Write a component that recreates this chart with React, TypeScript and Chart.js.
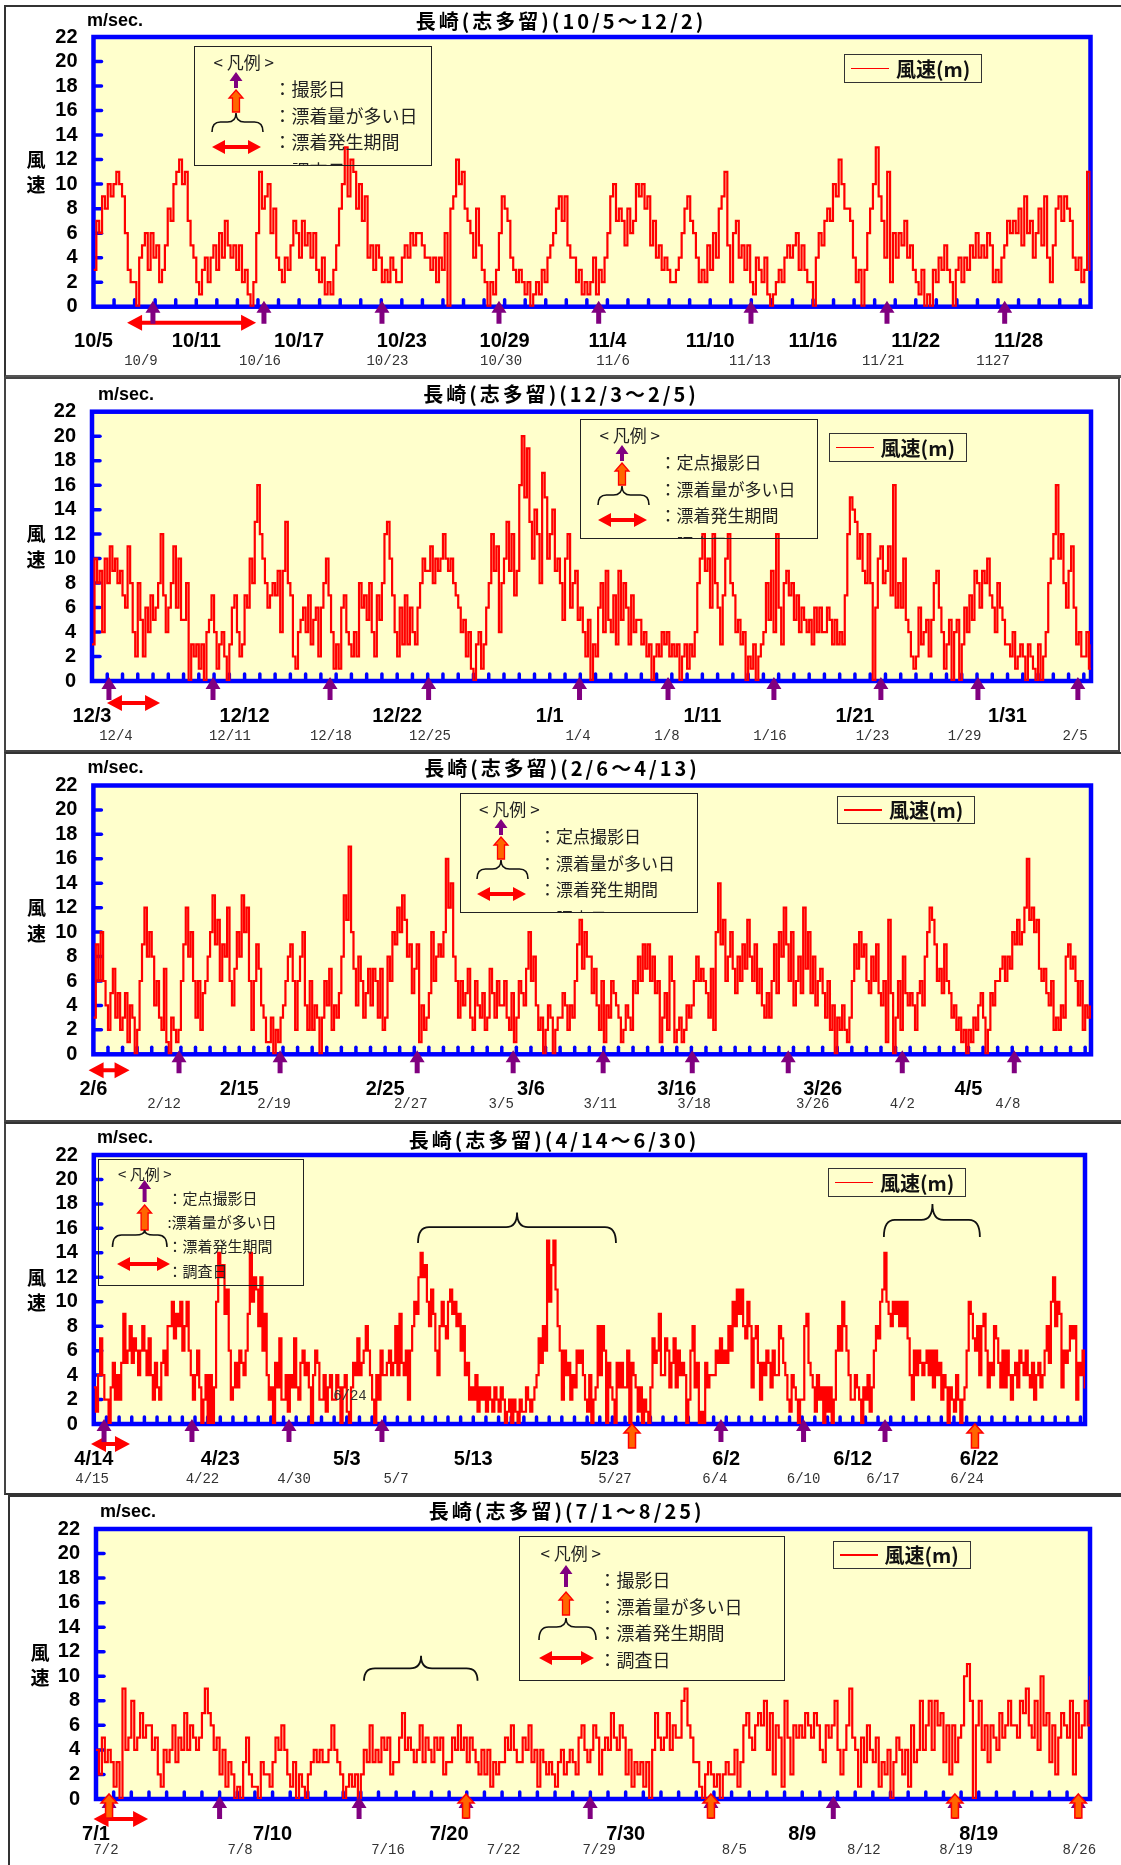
import React, { useEffect, useRef } from 'react';
import { Chart, registerables } from 'chart.js';

Chart.register(...registerables);

const W = 1121;
const PTS_PER_DAY = 6;
const Y_MAX = 22;
const JP = '"Noto Sans CJK JP", "Noto Sans", sans-serif';
const LAT = '"Liberation Sans", Arial, sans-serif';
const MONO = '"Liberation Mono", "DejaVu Sans Mono", monospace';
const PURPLE = '#800080';
const ORANGE = '#FF6600';
const RED = '#FF0000';
const BLUE = '#0000FF';
const PLOT_BG = '#FFFFCC';

// ---------------- Panel 1 : 10/5 ~ 12/2 (6 readings per day) ----------------
const p1Speed = [
  3,7,6,9,8,10, 9,10,11,10,9,6, 3,2,2,0,4,5, 6,3,6,4,5,2, 3,5,8,7,10,11,
  12,10,11,7,5,4, 2,1,3,4,2,4, 5,3,6,4,7,5, 4,5,3,5,2,3, 1,0,2,6,11,8,
  9,10,6,8,4,3, 2,4,3,5,7,6, 4,7,5,6,4,6, 3,2,4,1,2,1, 3,5,8,10,13,9,
  12,11,8,10,7,9, 4,5,3,5,4,2, 3,2,4,3,2,2, 4,5,4,6,5,6, 6,5,4,4,3,4,
  2,4,3,6,0,8, 9,12,10,11,8,7, 6,4,8,5,3,2, 0,2,1,3,6,9, 8,7,4,3,2,3,
  2,1,2,0,1,2, 1,3,2,4,5,6, 8,9,7,9,5,4, 4,2,3,1,2,1, 2,4,1,3,2,4,
  6,9,10,7,8,7, 5,8,6,7,10,9, 10,8,9,5,7,4, 5,3,4,3,2,2, 3,4,6,8,9,7,
  6,4,2,3,2,5, 3,6,4,8,9,11, 5,2,6,7,4,5, 3,5,2,1,4,3, 2,4,1,0,1,2,
  3,2,4,5,4,5, 6,3,5,3,2,2, 0,4,6,5,7,8, 7,10,9,12,10,8, 8,7,4,2,3,0,
  3,6,8,10,13,9, 7,4,11,2,6,4, 6,5,7,4,5,3, 2,1,3,0,1,0, 3,2,4,3,5,3,
  2,0,3,4,2,4, 3,5,4,6,4,5, 4,6,5,2,3,2, 4,5,7,6,7,6, 8,5,9,6,7,4,
  6,8,5,9,4,2, 5,8,9,7,9,8, 7,4,3,4,2,3, 11,3,0,
];
const p1TickDays = [0, 6, 12, 18, 24, 30, 36, 42, 48, 54];
const p1TickLabels = ['10/5', '10/11', '10/17', '10/23', '10/29', '11/4', '11/10', '11/16', '11/22', '11/28'];
const p1PhotoDays = [3.47, 9.95, 16.84, 23.67, 29.49, 38.38, 46.32, 53.19];
const p1HeavyDays: number[] = [];
const p1Spans = [[1.96, 9.49]];
const p1NoteDays = [2.77, 9.72, 17.16, 23.79, 30.33, 38.32, 46.09, 52.51];
const p1NoteLabels = ['10/9', '10/16', '10/23', '10/30', '11/6', '11/13', '11/21', '1127'];

// ---------------- Panel 2 : 12/3 ~ 2/5 ----------------
const p2Speed = [
  3,10,8,9,4,10, 8,11,9,10,8,9, 7,6,11,8,4,2, 8,5,2,6,4,7, 5,6,8,12,7,4,
  6,8,11,6,10,5, 5,8,0,3,2,3, 1,3,0,4,5,7, 4,1,3,4,2,0, 3,6,7,4,2,3,
  7,6,10,8,13,16, 12,10,8,6,7,8, 7,9,4,9,13,8, 7,2,1,4,5,6, 4,7,3,5,6,2,
  6,8,10,7,4,1, 3,1,6,7,4,3, 2,4,2,8,6,7, 5,8,4,2,7,5, 8,12,13,10,7,4,
  2,6,3,7,3,6, 4,3,6,8,10,9, 9,11,8,10,9,10, 12,10,9,10,8,7, 6,4,5,2,4,1,
  0,3,4,1,3,6, 8,12,9,11,4,8, 10,13,9,12,7,9, 16,20,15,19,13,10, 14,12,8,17,15,10,
  12,14,9,10,8,5, 10,12,6,8,9,5, 6,4,2,5,0,3, 2,6,8,4,9,5, 4,7,3,9,5,8,
  6,3,7,4,5,5, 3,4,2,3,0,2, 3,2,4,3,4,2, 3,2,3,0,2,3, 1,3,2,4,8,10,
  12,9,10,6,12,8, 6,3,7,10,12,8, 7,4,5,3,4,0, 2,1,3,0,2,3, 4,8,5,9,4,12,
  6,3,8,9,7,8, 5,7,4,6,5,4, 5,3,6,4,6,4, 4,6,5,3,5,3, 4,3,7,12,15,14,
  13,10,12,9,8,12, 8,0,6,10,11,8, 9,11,7,16,6,8, 6,10,5,4,2,1, 2,6,3,4,5,2,
  5,8,9,6,4,1, 3,5,0,4,5,0, 3,6,4,7,5,9, 8,6,9,8,10,7, 6,4,8,6,5,3,
  3,2,4,1,2,3, 2,0,3,2,1,0, 3,0,2,4,8,10, 12,16,10,12,8,6, 9,11,6,3,4,2, 2,4,1,3,
];
const p2TickDays = [0, 10, 20, 30, 40, 50, 60];
const p2TickLabels = ['12/3', '12/12', '12/22', '1/1', '1/11', '1/21', '1/31'];
const p2PhotoDays = [1.11, 7.93, 15.6, 22.06, 31.95, 37.75, 44.69, 51.7, 58.06, 64.61];
const p2HeavyDays: number[] = [];
const p2Spans = [[0.98, 4.46]];
const p2NoteDays = [1.57, 9.04, 15.66, 22.15, 31.85, 37.68, 44.43, 51.15, 57.18, 64.42];
const p2NoteLabels = ['12/4', '12/11', '12/18', '12/25', '1/4', '1/8', '1/16', '1/23', '1/29', '2/5'];

// ---------------- Panel 3 : 2/6 ~ 4/13 ----------------
const p3Speed = [
  3,9,6,10,6,4, 2,5,7,3,5,2, 3,5,1,4,3,0, 2,6,9,12,8,10, 8,4,6,3,2,7,
  1,0,3,2,1,2, 6,9,12,8,10,6, 3,6,2,5,6,8, 10,13,9,11,6,9, 8,12,6,4,7,10,
  8,13,10,12,6,2, 6,9,7,4,3,1, 1,3,0,2,1,3, 4,6,8,9,6,2, 6,8,10,4,2,6,
  2,4,3,0,3,6, 4,7,2,4,3,5, 8,13,11,17,10,7, 4,8,6,3,5,7, 4,7,6,3,7,2,
  3,8,6,10,9,12, 10,13,11,8,9,5, 7,9,1,4,2,3, 5,10,6,8,9,8, 10,16,12,14,8,6,
  3,6,4,5,7,3, 2,6,4,3,5,2, 3,7,5,3,6,4, 4,6,3,2,5,1, 3,6,5,4,7,10,
  6,8,4,2,3,0, 2,4,3,0,2,3, 3,5,4,2,4,3, 6,9,11,7,10,8, 8,5,7,4,2,6,
  1,4,3,6,5,4, 3,1,2,4,3,2, 6,5,8,6,9,7, 9,6,8,5,6,1, 3,5,2,8,6,1,
  2,3,1,2,4,3, 4,6,8,6,7,6, 5,3,7,2,10,14, 9,11,6,8,10,7, 5,8,6,9,7,11,
  8,6,9,5,7,4, 3,5,3,6,9,5, 10,8,12,9,6,10, 4,6,8,5,12,7, 10,5,8,4,6,7,
  5,3,6,2,4,0, 3,2,4,2,1,3, 6,9,7,10,8,9, 6,5,8,6,9,5, 4,6,1,11,5,0,
  3,6,2,8,5,4, 5,4,2,5,6,4, 8,10,12,11,9,6, 7,5,9,6,5,3, 4,2,3,1,2,0,
  2,1,3,2,4,5, 3,0,2,5,4,6, 6,7,8,6,8,7, 10,9,11,9,10,12, 16,11,12,10,11,7,
  6,7,5,4,6,2, 3,2,4,3,8,9, 7,8,6,4,6,2, 4,3,4,
];
const p3TickDays = [0, 10, 20, 30, 40, 50, 60];
const p3TickLabels = ['2/6', '2/15', '2/25', '3/6', '3/16', '3/26', '4/5'];
const p3PhotoDays = [5.87, 12.8, 22.2, 28.78, 34.95, 41.06, 47.64, 55.46, 63.14];
const p3HeavyDays: number[] = [];
const p3Spans = [[-0.33, 2.48]];
const p3NoteDays = [4.84, 12.39, 21.76, 27.96, 34.75, 41.19, 49.32, 55.46, 62.7];
const p3NoteLabels = ['2/12', '2/19', '2/27', '3/5', '3/11', '3/18', '3/26', '4/2', '4/8'];

// ---------------- Panel 4 : 4/14 ~ 6/30 ----------------
const p4Speed = [
  3,1,4,7,4,2, 2,0,3,5,2,4, 2,5,9,5,6,8, 5,7,6,4,6,8, 6,4,7,4,2,5,
  3,2,5,6,4,8, 8,10,7,9,8,10, 6,8,10,6,4,2, 4,6,3,0,2,4, 0,4,0,3,10,14,
  12,13,9,11,6,2, 3,5,3,6,5,4, 6,9,14,10,12,11, 8,12,6,9,4,2, 3,0,5,3,7,2,
  2,4,1,4,3,7, 3,2,5,6,4,5, 3,0,4,6,5,2, 2,4,1,3,4,2, 2,4,3,0,3,4,
  1,0,3,5,4,7, 4,5,6,8,6,4, 2,0,4,2,6,4, 4,5,6,4,5,8, 4,9,5,4,6,2,
  6,8,10,9,12,14, 12,13,10,8,11,9, 6,4,8,10,8,7, 10,11,9,10,8,9, 6,8,4,5,2,3,
  2,4,1,3,2,3, 1,3,2,1,3,2, 1,3,2,0,1,2, 0,2,1,0,2,1, 1,3,2,1,2,3,
  4,7,5,8,6,15, 10,13,15,11,8,6, 2,6,4,5,2,4, 3,6,5,6,4,2, 1,4,0,2,3,8,
  4,8,6,0,5,3, 2,0,5,3,5,3, 3,6,0,5,4,3, 1,3,0,2,1,0, 3,7,5,6,9,4,
  4,7,6,3,5,7, 3,6,4,5,4,0, 2,6,8,3,5,0, 1,0,5,3,4,4, 4,6,5,7,5,6,
  5,8,6,10,8,11, 9,11,8,7,10,8, 3,7,8,5,2,5, 4,6,5,3,6,4, 4,8,7,5,4,2,
  1,4,3,2,0,2, 2,8,9,5,4,3, 1,4,2,3,0,3, 1,3,0,2,6,8, 6,10,8,6,4,2,
  2,4,3,2,0,3, 2,4,1,3,6,8, 7,10,11,14,10,9, 8,10,9,10,8,10, 8,10,7,4,2,6,
  4,6,5,4,5,6, 4,6,3,6,4,5, 2,4,3,0,3,2, 1,4,2,0,2,3, 6,10,9,7,6,8,
  4,8,9,6,3,5, 4,8,7,5,3,6, 3,6,4,2,4,5, 3,6,5,4,6,4, 3,5,2,4,5,3,
  4,6,8,5,10,12, 8,10,9,3,6,5, 6,8,7,8,2,5, 4,6,3,4,
];
const p4TickDays = [0, 10, 20, 30, 40, 50, 60, 70];
const p4TickLabels = ['4/14', '4/23', '5/3', '5/13', '5/23', '6/2', '6/12', '6/22'];
const p4PhotoDays = [0.81, 7.76, 15.43, 22.78, 49.58, 56.11, 62.55];
const p4HeavyDays = [42.55, 69.66];
const p4Spans = [[-0.22, 2.86]];
const p4NoteDays = [-0.14, 8.59, 15.83, 23.89, 41.2, 49.1, 56.11, 62.39, 69.03];
const p4NoteLabels = ['4/15', '4/22', '4/30', '5/7', '5/27', '6/4', '6/10', '6/17', '6/24'];
// drift periods: [start day, end day, peak day, end level, bar level, peak level]
const p4Braces = [[25.63, 41.28, 33.46, 14.8, 16.1, 17.3], [62.46, 70.05, 66.3, 15.3, 16.7, 18.0]];
const p4Strays = [{ day: 20.25, level: 2.3, text: '6/24' }];

// ---------------- Panel 5 : 7/1 ~ 8/25 ----------------
const p5Speed = [
  4,2,5,3,4,3, 1,3,0,9,4,5, 8,4,5,7,5,6, 6,4,5,2,1,4, 3,4,6,3,5,4,
  7,4,6,5,4,5, 7,9,7,6,4,5, 2,4,1,3,2,0, 1,0,3,5,2,1, 1,0,3,2,2,1,
  3,5,4,6,4,2, 1,3,0,2,1,0, 2,3,4,3,4,3, 3,4,6,4,3,2, 0,1,2,1,2,0,
  2,4,3,6,3,4, 3,5,4,5,2,3, 3,5,7,4,5,4, 3,4,6,3,5,4, 3,5,4,5,2,3,
  3,5,4,6,4,5, 3,5,4,3,2,4, 2,4,1,3,2,3, 3,5,4,6,4,3, 3,5,4,6,3,4,
  1,4,3,2,3,2, 1,3,4,2,3,4, 3,2,5,6,4,3, 4,6,5,2,4,5, 4,7,5,4,6,5,
  2,4,1,3,2,3, 1,3,0,4,7,5, 4,5,7,4,6,5, 5,8,9,6,5,3, 3,1,0,2,3,2,
  1,2,0,2,3,2, 2,4,1,3,6,7, 5,4,6,7,6,8, 4,7,2,6,5,1, 8,5,2,6,5,6,
  5,7,6,5,7,6, 4,3,6,5,6,8, 4,2,4,6,9,5, 4,1,5,3,6,4, 3,5,1,3,2,4,
  0,3,5,4,2,4, 1,6,3,4,8,4, 6,8,4,8,6,7, 3,6,2,6,3,5, 6,10,11,8,0,6,
  8,4,6,3,6,5, 4,7,5,6,8,6, 6,5,8,7,9,6, 5,8,4,10,6,7, 3,6,2,5,7,6,
  5,8,2,7,5,6, 8,6,10,
];
const p5TickDays = [0, 10, 20, 30, 40, 50];
const p5TickLabels = ['7/1', '7/10', '7/20', '7/30', '8/9', '8/19'];
const p5PhotoDays = [0.74, 7.0, 14.9, 20.96, 27.99, 34.83, 41.76, 48.65, 55.64];
const p5HeavyDays = [0.74, 20.96, 34.83, 48.65, 55.64];
const p5Spans = [[-0.14, 2.95]];
const p5NoteDays = [0.57, 8.16, 16.54, 23.09, 28.5, 36.15, 43.49, 48.71, 55.69];
const p5NoteLabels = ['7/2', '7/8', '7/16', '7/22', '7/29', '8/5', '8/12', '8/19', '8/26'];
const p5Braces = [[15.18, 21.61, 18.41, 9.64, 10.65, 11.68]];

// ---------------- shape helpers ----------------
function upArrowPath(x: number, yTip: number, total: number, headW: number, headH: number, shaftW: number) {
  const h = headW / 2, s = shaftW / 2;
  return `M${x},${yTip} L${x + h},${yTip + headH} L${x + s},${yTip + headH} L${x + s},${yTip + total} L${x - s},${yTip + total} L${x - s},${yTip + headH} L${x - h},${yTip + headH} Z`;
}
function dblArrowPath(x1: number, x2: number, y: number, headL: number, headH: number, shaftH: number) {
  const a = headH / 2, s = shaftH / 2;
  return `M${x1},${y} L${x1 + headL},${y - a} L${x1 + headL},${y - s} L${x2 - headL},${y - s} L${x2 - headL},${y - a} L${x2},${y} L${x2 - headL},${y + a} L${x2 - headL},${y + s} L${x1 + headL},${y + s} L${x1 + headL},${y + a} Z`;
}
function bracePath(x1: number, x2: number, xm: number, yTop: number, yMid: number, yEnd: number) {
  const r = Math.min(11, (x2 - x1) / 6);
  const r2 = Math.min(11, (x2 - x1) / 6);
  return `M${x1},${yEnd} Q${x1},${yMid} ${x1 + r},${yMid} L${xm - r2},${yMid} Q${xm},${yMid} ${xm},${yTop} Q${xm},${yMid} ${xm + r2},${yMid} L${x2 - r},${yMid} Q${x2},${yMid} ${x2},${yEnd}`;
}

const PHOTO = { total: 23, headW: 15, headH: 12, shaftW: 5 };
const HEAVY = { total: 24, headW: 16, headH: 9, shaftW: 7 };

function makeDecor(def: any) {
  return {
    id: 'decor_' + def.id,
    beforeDraw(chart: any) {
      const { ctx, chartArea: a } = chart;
      ctx.save();
      ctx.fillStyle = PLOT_BG;
      ctx.fillRect(a.left, a.top, a.right - a.left, a.bottom - a.top);
      ctx.restore();
    },
    beforeDatasetsDraw(chart: any) {
      const { ctx, chartArea: a, scales } = chart;
      const xs = scales.x, ys = scales.y;
      ctx.save();
      ctx.strokeStyle = BLUE;
      ctx.lineCap = 'round';
      ctx.lineWidth = 3.5;
      for (let d = def.minorStep; d < def.days - 0.3; d += def.minorStep) {
        const x = xs.getPixelForValue(d);
        ctx.beginPath(); ctx.moveTo(x, a.bottom - 2); ctx.lineTo(x, a.bottom - 7); ctx.stroke();
      }
      for (let v = 2; v < Y_MAX; v += 2) {
        const y = ys.getPixelForValue(v);
        ctx.beginPath(); ctx.moveTo(a.left + 2, y); ctx.lineTo(a.left + 8, y); ctx.stroke();
      }
      ctx.lineCap = 'butt';
      ctx.lineWidth = 4.5;
      ctx.strokeRect(a.left, a.top, a.right - a.left, a.bottom - a.top);
      ctx.restore();
    },
    afterDatasetsDraw(chart: any) {
      const { ctx, chartArea: a, scales } = chart;
      const xs = scales.x, ys = scales.y;
      const B = a.bottom;
      ctx.save();
      for (const [s, e] of def.spans) {
        ctx.fillStyle = RED;
        ctx.fill(new Path2D(dblArrowPath(xs.getPixelForValue(s), xs.getPixelForValue(e), B + def.spanDy, 15, 16, 4)));
      }
      for (const d of def.photo) {
        ctx.fillStyle = PURPLE;
        ctx.fill(new Path2D(upArrowPath(xs.getPixelForValue(d), B + def.photoDy, PHOTO.total, PHOTO.headW, PHOTO.headH, PHOTO.shaftW)));
      }
      for (const d of def.heavy) {
        const p = new Path2D(upArrowPath(xs.getPixelForValue(d), B + def.heavyDy, HEAVY.total, HEAVY.headW, HEAVY.headH, HEAVY.shaftW));
        ctx.fillStyle = ORANGE; ctx.fill(p);
        ctx.strokeStyle = RED; ctx.lineWidth = 1.5; ctx.stroke(p);
      }
      ctx.fillStyle = '#333';
      ctx.font = `14px ${MONO}`;
      ctx.textAlign = 'center';
      ctx.textBaseline = 'middle';
      def.noteDays.forEach((d: number, i: number) => {
        ctx.fillText(def.noteLabels[i], xs.getPixelForValue(d), B + def.noteDy);
      });
      for (const st of def.strays) {
        ctx.fillText(st.text, xs.getPixelForValue(st.day), ys.getPixelForValue(st.level));
      }
      ctx.strokeStyle = '#111';
      ctx.lineWidth = 1.8;
      for (const [s, e, m, lo, mid, hi] of def.braces) {
        ctx.stroke(new Path2D(bracePath(xs.getPixelForValue(s), xs.getPixelForValue(e), xs.getPixelForValue(m),
          ys.getPixelForValue(hi), ys.getPixelForValue(mid), ys.getPixelForValue(lo))));
      }
      ctx.restore();
    },
  };
}

function buildConfig(def: any): any {
  return {
    type: 'line',
    data: {
      datasets: [{
        label: '風速(m)',
        data: def.speed.map((v: number, i: number) => ({ x: i / PTS_PER_DAY, y: v })),
        borderColor: RED,
        borderWidth: 2.2,
        pointRadius: 0,
        stepped: true,
        fill: false,
      }],
    },
    options: {
      responsive: false,
      animation: false,
      devicePixelRatio: 1,
      layout: { padding: { top: def.plot.t, right: W - def.plot.r, left: 0, bottom: 0 } },
      plugins: { legend: { display: false }, tooltip: { enabled: false }, title: { display: false } },
      scales: {
        x: {
          type: 'linear', min: 0, max: def.days,
          grid: { display: false, drawTicks: false },
          border: { display: false },
          afterFit: (s: any) => { s.height = def.height - def.plot.b; },
          afterBuildTicks: (s: any) => { s.ticks = def.tickDays.map((v: number) => ({ value: v })); },
          ticks: {
            autoSkip: false, maxRotation: 0, minRotation: 0, padding: 23, color: '#000',
            font: { family: LAT, size: 20, weight: 'bold' },
            callback: (_v: any, i: number) => def.tickLabels[i] ?? '',
          },
        },
        y: {
          min: 0, max: Y_MAX,
          grid: { display: false, drawTicks: false },
          border: { display: false },
          afterFit: (s: any) => { s.width = def.plot.l; },
          ticks: { stepSize: 2, autoSkip: false, padding: 16, color: '#000', font: { family: LAT, size: 20, weight: 'bold' } },
        },
      },
    },
    plugins: [makeDecor(def)],
  };
}

function KeyBox({ k }: { k: any }) {
  const b = k.brace;
  return (
    <div style={{ position: 'absolute', left: k.l, top: k.t, width: k.w, height: k.h, border: '1.5px solid #222', boxSizing: 'border-box', overflow: 'hidden' }}>
      <svg width={k.w} height={k.h} style={{ position: 'absolute', left: -1.5, top: -1.5 }}>
        <path d={upArrowPath(k.iconX, k.purple[0], k.purple[1], 13, 9, 4)} fill={PURPLE} />
        <path d={upArrowPath(k.iconX, k.orange[0], k.orange[1], 14, 8, 7)} fill={ORANGE} stroke={RED} strokeWidth={1.3} />
        <path d={bracePath(b[0], b[1], k.iconX, b[2], b[3], b[4])} fill="none" stroke="#111" strokeWidth={1.6} />
        <path d={dblArrowPath(k.dbl[0], k.dbl[1], k.dbl[2], 13, 14, 4)} fill={RED} />
      </svg>
      <div style={{ position: 'absolute', left: k.headX - 1.5, top: k.headY - 1.5 - 0.556 * k.headFs, fontFamily: JP, fontSize: k.headFs, lineHeight: `${k.headFs}px`, color: '#222', whiteSpace: 'nowrap' }}>&lt; 凡例 &gt;</div>
      {k.rows.map((r: string, i: number) => (
        <div key={i} style={{ position: 'absolute', left: k.textX - 1.5, top: k.rowY[i] - 1.5 - 0.556 * k.fs, fontFamily: JP, fontSize: k.fs, lineHeight: `${k.fs}px`, color: '#222', whiteSpace: 'nowrap' }}>{r}</div>
      ))}
    </div>
  );
}

function SpeedKey({ box }: { box: number[] }) {
  return (
    <div style={{ position: 'absolute', left: box[0], top: box[1], width: box[2], height: box[3], border: '1.5px solid #333', boxSizing: 'border-box', display: 'flex', alignItems: 'center' }}>
      <div style={{ width: 38, height: 1.5, background: RED, marginLeft: 6 }} />
      <div style={{ marginLeft: 7, fontFamily: JP, fontWeight: 700, fontSize: 20, lineHeight: '24px', color: '#111', whiteSpace: 'nowrap' }}>風速(m)</div>
    </div>
  );
}

const KEY_A = (l: number, t: number, fs: number, rows: string[]) => ({
  l, t, w: 238, h: 120, fs, headFs: 17, headX: 20, headY: 17, iconX: 42,
  purple: [26, 16], orange: [44, 22], brace: [18, 69, 67, 76, 86], dbl: [18, 67, 101],
  textX: 80, rowY: [44, 71, 97, 126], rows,
});

const PANELS = [
  {
    id: 'p1', top: 5, height: 373, plot: { l: 93.5, t: 32, r: 1090.5, b: 301.7 }, days: 58.2, minorStep: 1.2,
    speed: p1Speed, tickDays: p1TickDays, tickLabels: p1TickLabels, photo: p1PhotoDays, heavy: p1HeavyDays,
    spans: p1Spans, noteDays: p1NoteDays, noteLabels: p1NoteLabels, braces: [], strays: [],
    photoDy: -6, heavyDy: -4, spanDy: 16, noteDy: 55,
    title: '長崎(志多留)(10/5～12/2)', titlePos: [561, 17], msec: [87, 15.5], kanji: [36, 155, 180],
    key: KEY_A(194, 41, 18, ['：撮影日', '：漂着量が多い日', '：漂着発生期間', '：調査日']),
    speedBox: [844, 49, 138, 29],
  },
  {
    id: 'p2', top: 377, height: 375, plot: { l: 92, t: 34.7, r: 1091, b: 304 }, days: 65.47, minorStep: 1,
    speed: p2Speed, tickDays: p2TickDays, tickLabels: p2TickLabels, photo: p2PhotoDays, heavy: p2HeavyDays,
    spans: p2Spans, noteDays: p2NoteDays, noteLabels: p2NoteLabels, braces: [], strays: [],
    photoDy: -4, heavyDy: -4, spanDy: 22, noteDy: 55,
    title: '長崎(志多留)(12/3～2/5)', titlePos: [561, 18], msec: [98, 18], kanji: [36, 157, 183],
    key: KEY_A(580, 42, 17, ['：定点撮影日', '：漂着量が多い日', '：漂着発生期間', '：調査日']),
    speedBox: [828.6, 56, 138, 29],
  },
  {
    id: 'p3', top: 752, height: 370, plot: { l: 93.4, t: 33.5, r: 1091, b: 302.3 }, days: 68.4, minorStep: 1,
    speed: p3Speed, tickDays: p3TickDays, tickLabels: p3TickLabels, photo: p3PhotoDays, heavy: p3HeavyDays,
    spans: p3Spans, noteDays: p3NoteDays, noteLabels: p3NoteLabels, braces: [], strays: [],
    photoDy: -4, heavyDy: -4, spanDy: 16, noteDy: 50,
    title: '長崎(志多留)(2/6～4/13)', titlePos: [562, 17], msec: [87.5, 15.5], kanji: [36.5, 155.5, 181.5],
    key: KEY_A(459.6, 41, 17, ['：定点撮影日', '：漂着量が多い日', '：漂着発生期間', '：調査日']),
    speedBox: [837, 44, 138, 28],
  },
  {
    id: 'p4', top: 1122, height: 373, plot: { l: 93.8, t: 33, r: 1085, b: 302 }, days: 78.36, minorStep: 1,
    speed: p4Speed, tickDays: p4TickDays, tickLabels: p4TickLabels, photo: p4PhotoDays, heavy: p4HeavyDays,
    spans: p4Spans, noteDays: p4NoteDays, noteLabels: p4NoteLabels, braces: p4Braces, strays: p4Strays,
    photoDy: -5, heavyDy: 0, spanDy: 20, noteDy: 55,
    title: '長崎(志多留)(4/14～6/30)', titlePos: [554, 19], msec: [97, 16], kanji: [36.5, 155.5, 180.5],
    key: {
      l: 98, t: 37, w: 206, h: 127, fs: 15, headFs: 15, headX: 20.6, headY: 16, iconX: 46.6,
      purple: [21, 22], orange: [46, 25], brace: [14.5, 69, 71, 76, 88], dbl: [19, 72, 105],
      textX: 70, rowY: [40, 64, 88, 113], rows: ['：定点撮影日', ':漂着量が多い日', '：漂着発生期間', '：調査日'],
    },
    speedBox: [828, 46, 138, 29],
  },
  {
    id: 'p5', top: 1495, height: 370, plot: { l: 96, t: 34, r: 1090, b: 304 }, days: 56.3, minorStep: 1,
    speed: p5Speed, tickDays: p5TickDays, tickLabels: p5TickLabels, photo: p5PhotoDays, heavy: p5HeavyDays,
    spans: p5Spans, noteDays: p5NoteDays, noteLabels: p5NoteLabels, braces: p5Braces, strays: [],
    photoDy: -3, heavyDy: -5, spanDy: 20, noteDy: 51,
    title: '長崎(志多留)(7/1～8/25)', titlePos: [566.7, 17], msec: [100, 16.5], kanji: [40, 157.5, 182.5],
    key: {
      l: 519, t: 41, w: 266, h: 145, fs: 18, headFs: 17, headX: 22, headY: 18, iconX: 47,
      purple: [29, 22], orange: [56, 23], brace: [20, 77, 82, 91, 104], dbl: [20, 75, 122],
      textX: 80, rowY: [45, 72, 98, 125], rows: ['：撮影日', '：漂着量が多い日', '：漂着発生期間', '：調査日'],
    },
    speedBox: [832.5, 46, 138.5, 28],
  },
];

function Panel({ def }: { def: any }) {
  const ref = useRef<HTMLCanvasElement>(null);
  useEffect(() => {
    const chart = new Chart(ref.current as HTMLCanvasElement, buildConfig(def));
    return () => chart.destroy();
  }, [def]);
  return (
    <div style={{ position: 'absolute', left: 0, top: def.top, width: W, height: def.height }}>
      <canvas ref={ref} width={W} height={def.height} style={{ position: 'absolute', left: 0, top: 0, width: W, height: def.height }} />
      <div style={{ position: 'absolute', left: def.msec[0], top: def.msec[1] - 12, fontFamily: LAT, fontWeight: 700, fontSize: 18, lineHeight: '22px', color: '#000', whiteSpace: 'nowrap' }}>m/sec.</div>
      <div style={{ position: 'absolute', left: def.titlePos[0], top: def.titlePos[1] - 15, transform: 'translateX(-50%)', fontFamily: JP, fontWeight: 700, fontSize: 20, lineHeight: '28px', letterSpacing: 3, color: '#000', whiteSpace: 'nowrap' }}>{def.title}</div>
      {['風', '速'].map((c, i) => (
        <div key={c} style={{ position: 'absolute', left: def.kanji[0] - 10, top: def.kanji[1 + i] - 11, width: 20, textAlign: 'center', fontFamily: JP, fontWeight: 700, fontSize: 19, lineHeight: '19px', color: '#000' }}>{c}</div>
      ))}
      <KeyBox k={def.key} />
      <SpeedKey box={def.speedBox} />
    </div>
  );
}

export default function App() {
  const frame = (extra: any) => ({ position: 'absolute', boxSizing: 'border-box', ...extra });
  return (
    <div style={{ position: 'absolute', left: 0, top: 0, width: W, height: 1865, background: '#fff', overflow: 'hidden' }}>
      <div style={frame({ left: 4, top: 5, width: 1117, height: 373, borderLeft: '2px solid #333', borderTop: '2px solid #333', borderBottom: '3px solid #555' })} />
      <div style={frame({ left: 4, top: 377, width: 1116, height: 375, border: '2px solid #444' })} />
      <div style={frame({ left: 4, top: 752, width: 1117, height: 370, borderLeft: '2px solid #444', borderTop: '2px solid #333', borderBottom: '2px solid #444' })} />
      <div style={frame({ left: 4, top: 1122, width: 1117, height: 373, borderLeft: '2px solid #444', borderTop: '2px solid #333', borderBottom: '2px solid #333' })} />
      <div style={frame({ left: 8, top: 1495, width: 1113, height: 370, borderLeft: '2px solid #333', borderTop: '2px solid #333' })} />
      {PANELS.map((p) => <Panel key={p.id} def={p} />)}
    </div>
  );
}
